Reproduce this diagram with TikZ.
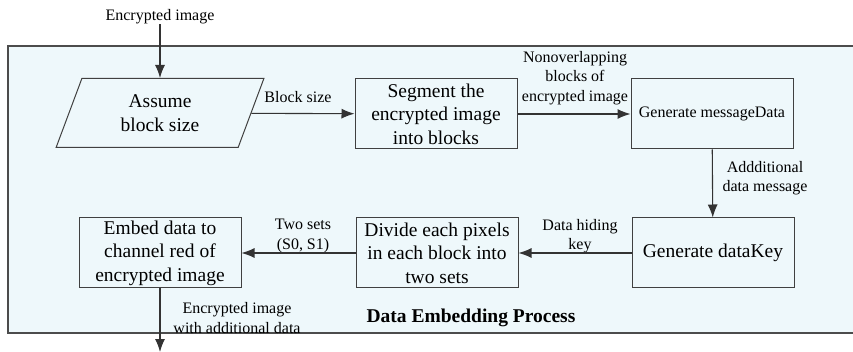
\documentclass[tikz,border=0pt]{standalone}
\usepackage{fontspec}
\setmainfont{Liberation Serif}
\usetikzlibrary{shapes.geometric,arrows.meta}

\tikzset{
	stepbox/.style={draw=black!75, line width=1pt, fill=none, minimum width=162pt, minimum height=70pt, align=center, inner sep=2pt, font=\fontsize{19.5}{23.5}\selectfont},
	inbox/.style={draw=black!75, line width=1pt, trapezium, trapezium left angle=72, trapezium right angle=108, trapezium stretches=true, minimum width=208pt, minimum height=69pt, align=center, font=\fontsize{19.5}{23.5}\selectfont},
	lbl/.style={align=center, inner sep=0pt, font=\fontsize{16}{19.5}\selectfont},
	flow/.style={-{Latex[length=13pt,width=10pt]}, line width=1.1pt, black!80}
}

\begin{document}
\begin{tikzpicture}[x=1pt, y=-1pt]
	\useasboundingbox (0,0) rectangle (853,352);
	% frame of the process, open on the right
	\fill [fill={rgb,255:red,238;green,248;blue,251}] (8,46) rectangle (853,333);
	\draw [line width=1.3pt, black!70] (853,46) -- (8,46) -- (8,333) -- (853,333);

	\node[lbl] (input) at (160,17) {Encrypted image};
	\node[inbox] (assume) at (160,113) {Assume\\block size};
	\node[stepbox] (segment) at (436,114) {Segment the\\encrypted image\\into blocks};
	\node[stepbox, font=\fontsize{16}{19.5}\selectfont] (msgdata) at (712,114) {Generate messageData};
	\node[stepbox] (datakey) at (713,253) {Generate dataKey};
	\node[stepbox] (divide) at (437,253) {Divide each pixels\\in each block into\\two sets};
	\node[stepbox] (embed) at (160,253) {Embed data to\\channel red of\\encrypted image};
	\coordinate (output) at (160,352);

	% edge labels
	\node[lbl] (bsize) at (298,97) {Block size};
	\node[lbl] (blocks) at (575,78) {Nonoverlapping\\blocks of\\encrypted image};
	\node[lbl] (addmsg) at (765,178) {Addditional\\data message};
	\node[lbl] (hidkey) at (580,236) {Data hiding\\key};
	\node[lbl] (sets) at (303,236) {Two sets\\(S0, S1)};
	\node[lbl] (result) at (237,318) {Encrypted image\\with additional data};
	\node[lbl, font=\bfseries\fontsize{19.5}{23.5}\selectfont] (title) at (471,318) {Data Embedding Process};

	\draw [flow] (input) -- (assume);
	\draw [flow] (assume) -- (segment);
	\draw [flow] (segment) -- (msgdata);
	\draw [flow] (msgdata) -- (datakey);
	\draw [flow] (datakey) -- (divide);
	\draw [flow] (divide) -- (embed);
	\draw [flow] (embed) -- (output);
\end{tikzpicture}
\end{document}
